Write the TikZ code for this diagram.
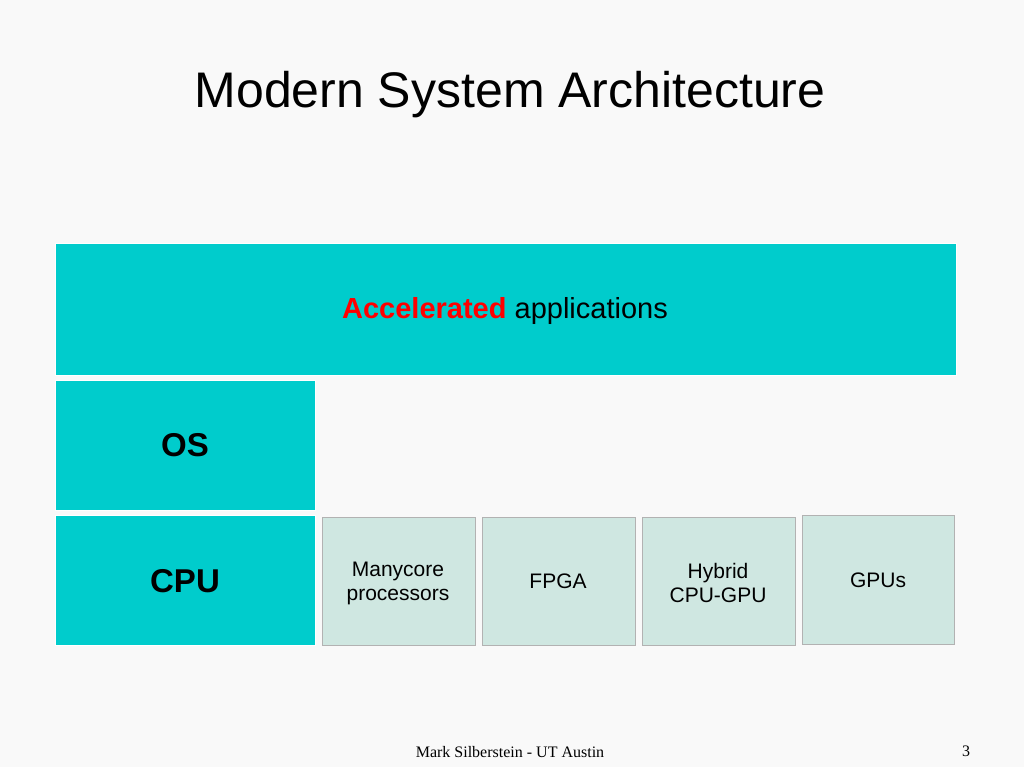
\documentclass[tikz,border=0pt]{standalone}
\usepackage{fontspec}
\setmainfont{Liberation Sans}
\newfontfamily\serifft{Liberation Serif}
\definecolor{teal1}{HTML}{00CCCC}
\definecolor{lightbox}{HTML}{CFE7E1}
\definecolor{bg}{HTML}{F9F9F9}
\begin{document}
\begin{tikzpicture}[x=1pt,y=-1pt,
  big/.style={fill=teal1,draw=white,line width=0.8pt},
  small/.style={fill=lightbox,draw=gray!60,line width=0.6pt},
  lbl/.style={font=\fontsize{21}{24}\selectfont,align=center}]
\fill[bg] (0,0) rectangle (1024,767);
\useasboundingbox (0,0) rectangle (1024,767);
\node (title) at (510,95) {\fontsize{50}{56}\selectfont Modern System Architecture};
\draw[big] (55,243) rectangle (956,375);
\node (acc) at (505,311) {\fontsize{29}{34}\selectfont\textcolor{red}{\textbf{Accelerated}} applications};
\draw[big] (55,380) rectangle (315,510);
\node (os) at (185,445) {\fontsize{33}{38}\selectfont\bfseries OS};
\draw[big] (55,515) rectangle (315,645);
\node (cpu) at (185,581) {\fontsize{33}{38}\selectfont\bfseries CPU};
\draw[small] (322,517) rectangle (475,645);
\node[lbl] (many) at (398,583) {Manycore\\processors};
\draw[small] (482,517) rectangle (635,645);
\node[lbl] (fpga) at (558,581) {FPGA};
\draw[small] (642,517) rectangle (795,645);
\node[lbl] (hyb) at (718,583) {Hybrid\\CPU-GPU};
\draw[small] (802,515) rectangle (954,644);
\node[lbl] (gpu) at (878,580) {GPUs};
\node (foot) at (510,752) {\serifft\fontsize{16}{18}\selectfont Mark Silberstein - UT Austin};
\node (num) at (966,751) {\serifft\fontsize{16}{18}\selectfont 3};
\end{tikzpicture}
\end{document}
